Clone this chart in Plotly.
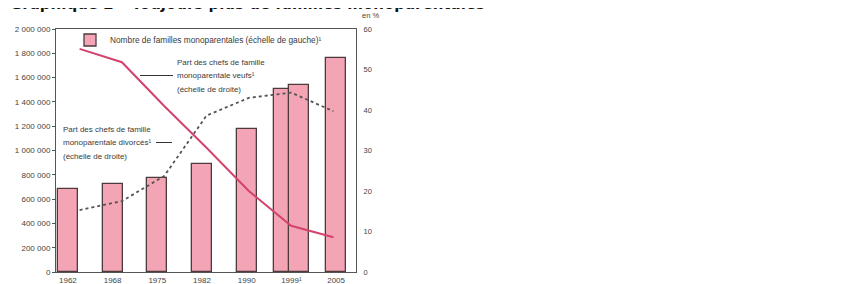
import plotly.graph_objects as go

# ---------------- data ----------------
annees = ["1962", "1968", "1975", "1982", "1990", "1999¹", "2005"]
nb_familles = [686000, 721000, 776000, 891000, 1180000, 1541000, 1765000]
nb_familles_1999_ancien = 1508000          # second 1999 bar (partly hidden)
part_veufs = [55.1, 51.8, 41.0, 30.7, 20.0, 11.4, 8.6]
part_divorces = [15.3, 17.5, 23.7, 38.6, 43.0, 44.3, 39.7]
left_ticks = [0, 200000, 400000, 600000, 800000, 1000000, 1200000, 1400000,
              1600000, 1800000, 2000000]
right_ticks = [0, 10, 20, 30, 40, 50, 60]

# ---------------- layout constants ----------------
W, H = 849, 284
OFF = 8                       # page body margin of the browser
PL, PT, PR, PB = 56, 29, 356, 272   # plot area in page pixels
PW, PH = PR - PL, PB - PT
ML, MT = PL - OFF, PT - OFF
MR = W - ML - PW
MB = H - MT - PH
PAIR_SHIFT = 0.175
BAR_W = 0.45
idx = list(range(len(annees)))
i99 = annees.index("1999¹")

BAR_FILL = "#F4A5B5"
BAR_LINE = "#4d3a3d"
RED = "#D3436C"
TXT = "#3a3a3a"
FONT = "Liberation Sans"

def px_x(p):
    return (p - PL) / PW

def px_y(p):
    return (PB - p) / PH

def fmt(v):
    return f"{v:,}".replace(",", " ")

bar_x = [i + (PAIR_SHIFT if i == i99 else 0) for i in idx]

fig = go.Figure()
fig.add_trace(go.Bar(
    x=[i99 - PAIR_SHIFT], y=[nb_familles_1999_ancien], width=BAR_W,
    marker=dict(color=BAR_FILL, line=dict(color=BAR_LINE, width=1.3)),
    showlegend=False, xaxis="x", yaxis="y"))
fig.add_trace(go.Bar(
    x=bar_x, y=nb_familles, width=BAR_W,
    marker=dict(color=BAR_FILL, line=dict(color=BAR_LINE, width=1.3)),
    name="Nombre de familles monoparentales (échelle de gauche)¹",
    showlegend=True, xaxis="x", yaxis="y"))
fig.add_trace(go.Scatter(
    x=idx, y=part_divorces, mode="lines",
    line=dict(color="#555555", width=1.8, dash="dot"),
    showlegend=False, xaxis="x2", yaxis="y2"))
fig.add_trace(go.Scatter(
    x=idx, y=part_veufs, mode="lines",
    line=dict(color=RED, width=2),
    showlegend=False, xaxis="x2", yaxis="y2"))

annotations = [
    dict(text="<b>Graphique 2 – Toujours plus de familles monoparentales</b>",
         x=px_x(OFF), y=px_y(15), xref="paper", yref="paper",
         xanchor="left", yanchor="bottom", showarrow=False,
         font=dict(family="DejaVu Sans", size=15, color="#111111")),
    dict(text="en %", x=px_x(360), y=px_y(16), xref="paper", yref="paper",
         xanchor="left", yanchor="middle", showarrow=False,
         font=dict(family=FONT, size=7.5, color="#444444")),
]
veufs_lines = ["Part des chefs de famille", "monoparentale veufs¹", "(échelle de droite)"]
div_lines = ["Part des chefs de famille", "monoparentale divorcés¹", "(échelle de droite)"]
for k, t in enumerate(veufs_lines):
    annotations.append(dict(text=t, x=px_x(175), y=px_y(62 + 13.5 * k),
                            xref="paper", yref="paper", xanchor="left",
                            yanchor="middle", showarrow=False,
                            font=dict(family=FONT, size=8, color=TXT)))
for k, t in enumerate(div_lines):
    annotations.append(dict(text=t, x=px_x(61), y=px_y(129 + 13.5 * k),
                            xref="paper", yref="paper", xanchor="left",
                            yanchor="middle", showarrow=False,
                            font=dict(family=FONT, size=8, color=TXT)))

shapes = [
    dict(type="line", xref="paper", yref="paper", x0=px_x(140), x1=px_x(173),
         y0=px_y(75.5), y1=px_y(75.5), line=dict(color="#333333", width=1)),
    dict(type="line", xref="paper", yref="paper", x0=px_x(156), x1=px_x(172),
         y0=px_y(142.5), y1=px_y(142.5), line=dict(color="#333333", width=1)),
]

fig.update_layout(
    width=W, height=H,
    margin=dict(l=ML, r=MR, t=MT, b=MB, pad=0, autoexpand=False),
    paper_bgcolor="white", plot_bgcolor="white",
    barmode="overlay", bargap=0,
    font=dict(family=FONT, size=8, color="#444444"),
    showlegend=True,
    legend=dict(x=px_x(70), y=px_y(25.5), xanchor="left", yanchor="top",
                bgcolor="rgba(0,0,0,0)", font=dict(family=FONT, size=8.3, color=TXT),
                itemwidth=30, tracegroupgap=0),
    xaxis=dict(range=[-0.266, 6.445], tickmode="array", tickvals=idx, ticktext=annees,
               showline=True, mirror=True, linecolor="#555555", linewidth=1,
               ticks="", showgrid=False, zeroline=False, automargin=False,
               tickfont=dict(family=FONT, size=8, color="#444444")),
    xaxis2=dict(range=[-0.558, 6.534], overlaying="x", visible=False, automargin=False),
    yaxis=dict(range=[0, 2000000], tickmode="array", tickvals=left_ticks,
               ticktext=[fmt(v) for v in left_ticks],
               showline=True, linecolor="#555555", linewidth=1,
               ticks="outside", ticklen=3, tickcolor="#555555",
               showgrid=False, zeroline=False, automargin=False,
               tickfont=dict(family=FONT, size=8, color="#444444")),
    yaxis2=dict(range=[0, 60], tickmode="array", tickvals=right_ticks,
                overlaying="y", side="right", anchor="x2",
                showline=True, linecolor="#555555", linewidth=1,
                ticks="", showgrid=False, zeroline=False, ticklabelstandoff=5,
                automargin=False,
                tickfont=dict(family=FONT, size=7.5, color="#444444")),
    annotations=annotations,
    shapes=shapes,
)

fig.write_html("out.html")
